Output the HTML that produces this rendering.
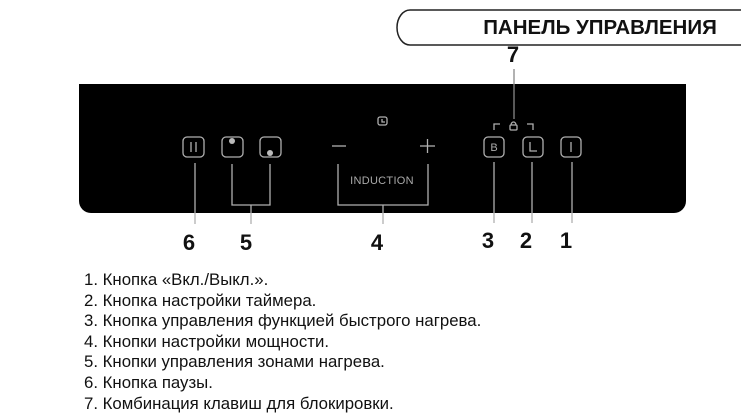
<!DOCTYPE html>
<html><head><meta charset="utf-8"><style>
html,body{margin:0;padding:0;background:#fff;width:741px;height:415px;overflow:hidden;position:relative;font-family:"Liberation Sans","DejaVu Sans",sans-serif}
.a{position:absolute}
.list{position:absolute;left:84px;top:270px;font-size:16.8px;line-height:20.6px;color:#111}
.num{position:absolute;font-weight:bold;font-size:22px;color:#111;transform:translateX(-50%)}
</style></head><body>
<svg class="a" style="left:0;top:0" width="741" height="415">
 <path d="M741 10 H410 A13 17.5 0 0 0 410 45 H741" fill="#fff" stroke="#222" stroke-width="1.5"/>
 <path d="M79 84 H686 V201 A12 12 0 0 1 674 213 H91 A12 12 0 0 1 79 201 Z" fill="#000"/>
 <g stroke="#b0b0b0" stroke-width="1.3" fill="none">
  <rect x="183" y="137" width="21" height="20" rx="4"/>
  <line x1="191" y1="142" x2="191" y2="152"/><line x1="196" y1="142" x2="196" y2="152"/>
  <rect x="222" y="137" width="21" height="20" rx="4"/>
  <rect x="260" y="137" width="21" height="20" rx="4"/>
  <rect x="484" y="137" width="20" height="20" rx="4"/>
  <rect x="523" y="137" width="20" height="20" rx="4"/>
  <path d="M530 142 V151 H537"/>
  <rect x="561" y="137" width="20" height="20" rx="4"/>
  <line x1="571" y1="142" x2="571" y2="152"/>
  <line x1="332" y1="146" x2="346" y2="146"/>
  <line x1="420" y1="146" x2="435" y2="146"/><line x1="427.5" y1="139" x2="427.5" y2="153"/>
  <rect x="378" y="117" width="9" height="8" rx="2"/>
  <path d="M382 119 V122 H385"/>
  <path d="M494 130 V124 H500 M527 124 H533 V130"/>
  <rect x="510" y="125" width="7" height="5" rx="1"/><path d="M511 125 A2.5 3 0 0 1 516 125"/>
  <line x1="514" y1="69" x2="514" y2="119" stroke="#888"/>
  <line x1="195" y1="163" x2="195" y2="224"/>
  <path d="M232 164 V205 H270 V164 M251 205 V224"/>
  <path d="M338 164 V205 H428 V164 M383 205 V224"/>
  <line x1="494" y1="162" x2="494" y2="223"/>
  <line x1="532" y1="162" x2="532" y2="223"/>
  <line x1="572" y1="162" x2="572" y2="223"/>
 </g>
 <circle cx="232" cy="141" r="3" fill="#bbb"/>
 <circle cx="270" cy="153" r="3" fill="#bbb"/>
 <text x="494" y="151" font-size="11" fill="#aaa" text-anchor="middle" font-family="Liberation Sans">B</text>
 <text x="382" y="184" font-size="11" fill="#aaa" text-anchor="middle" letter-spacing="0.3" font-family="Liberation Sans">INDUCTION</text>
 <text x="600" y="34" font-size="20.5" font-weight="bold" fill="#111" text-anchor="middle" font-family="Liberation Sans">ПАНЕЛЬ УПРАВЛЕНИЯ</text>
</svg>
<div class="num" style="left:513px;top:42px">7</div>
<div class="num" style="left:189px;top:230px">6</div>
<div class="num" style="left:246px;top:230px">5</div>
<div class="num" style="left:377px;top:230px">4</div>
<div class="num" style="left:488px;top:228px">3</div>
<div class="num" style="left:526px;top:228px">2</div>
<div class="num" style="left:566px;top:228px">1</div>
<div class="list">1. Кнопка «Вкл./Выкл.».<br>2. Кнопка настройки таймера.<br>3. Кнопка управления функцией быстрого нагрева.<br>4. Кнопки настройки мощности.<br>5. Кнопки управления зонами нагрева.<br>6. Кнопка паузы.<br>7. Комбинация клавиш для блокировки.</div>
</body></html>
